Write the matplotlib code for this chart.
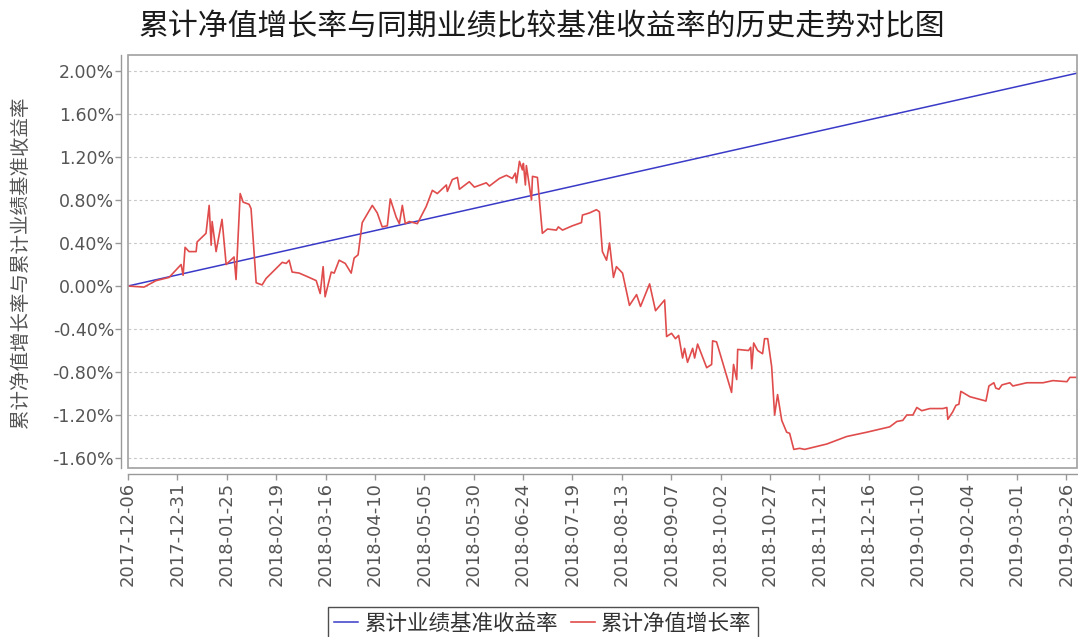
import matplotlib
matplotlib.use("Agg")
import matplotlib.pyplot as plt
from matplotlib.patches import Rectangle
from matplotlib.ticker import FuncFormatter
import pandas as pd

plt.rcParams['font.family'] = ['Noto Sans CJK SC', 'DejaVu Sans']

title = "累计净值增长率与同期业绩比较基准收益率的历史走势对比图"
y_label = "累计净值增长率与累计业绩基准收益率"
bench_name = "累计业绩基准收益率"
nav_name = "累计净值增长率"

start_date = "2017-12-06"
tick_step_days = 25
n_ticks = 20
x_end_day = 480.5

# benchmark (straight line): day offsets from start, percent
bench_day = [0, 480.5]
bench_pct = [0.00, 1.98]

# cumulative NAV growth: day offsets from start, percent
nav_day = [0, 8.1, 14.2, 20.8, 26.9, 27.9, 28.9, 30.9, 34.5, 35.0, 39.5, 41.1, 42.1, 42.6,
           44.6, 47.6, 49.7, 53.7, 54.7, 56.8, 58.3, 61.3, 62.3, 64.9, 67.9, 69.9, 78.1,
           80.1, 81.6, 83.1, 86.7, 91.7, 95.3, 97.3, 98.8, 99.8, 102.9, 104.4, 106.9,
           110.0, 113.0, 114.5, 116.5, 118.6, 123.7, 126.2, 128.7, 131.3, 132.8, 135.8,
           137.4, 138.9, 140.4, 142.4, 146.5, 151.0, 154.1, 156.6, 161.2, 161.7, 164.2,
           166.8, 167.8, 172.8, 175.4, 181.4, 183.0, 188.0, 191.6, 194.6, 196.1, 196.7,
           198.2, 199.7, 200.2, 201.2, 201.7, 204.3, 204.8, 207.3, 209.8, 212.4, 216.9,
           217.9, 220.0, 225.0, 229.6, 230.1, 233.7, 237.2, 238.7, 240.2, 242.3, 243.8,
           245.8, 247.3, 250.4, 253.9, 257.5, 259.5, 264.1, 267.1, 271.7, 272.7, 275.2,
           277.2, 278.8, 280.8, 281.8, 283.3, 285.9, 286.9, 288.4, 293.0, 295.5, 296.0,
           298.0, 305.6, 306.6, 308.2, 308.7, 314.2, 315.3, 315.8, 316.8, 318.8, 321.3,
           322.3, 323.9, 325.9, 327.4, 328.9, 331.0, 333.5, 335.0, 337.1, 340.1, 342.6,
           353.8, 363.9, 374.1, 385.7, 389.3, 392.3, 394.3, 397.4, 399.4, 401.9, 406.0,
           412.6, 414.6, 415.1, 417.6, 419.2, 420.7, 421.7, 426.3, 434.4, 435.9, 438.4,
           439.4, 441.0, 442.5, 446.5, 448.0, 455.1, 463.3, 468.3, 475.4, 476.9, 480.0]
nav_pct = [0.00, -0.01, 0.05, 0.08, 0.20, 0.10, 0.36, 0.32, 0.32, 0.41, 0.49, 0.75, 0.38, 0.60,
           0.32, 0.62, 0.20, 0.27, 0.06, 0.86, 0.78, 0.76, 0.72, 0.03, 0.01, 0.07, 0.22,
           0.21, 0.24, 0.13, 0.12, 0.08, 0.05, -0.07, 0.18, -0.10, 0.13, 0.12, 0.24,
           0.21, 0.12, 0.26, 0.29, 0.59, 0.75, 0.68, 0.55, 0.56, 0.81, 0.64,
           0.58, 0.75, 0.58, 0.60, 0.58, 0.74, 0.89, 0.86, 0.94, 0.88, 0.99,
           1.01, 0.90, 0.97, 0.92, 0.96, 0.93, 1.00, 1.03, 1.00, 1.05, 0.96,
           1.16, 1.08, 1.14, 0.94, 1.12, 0.80, 1.02, 1.01, 0.49, 0.53, 0.52,
           0.55, 0.52, 0.56, 0.59, 0.66, 0.68, 0.71, 0.69, 0.32, 0.24, 0.40,
           0.08, 0.18, 0.12, -0.18, -0.08, -0.19, 0.02, -0.23, -0.13, -0.47, -0.44,
           -0.49, -0.46, -0.67, -0.58, -0.71, -0.58, -0.67, -0.54, -0.76, -0.73, -0.51,
           -0.52, -0.99, -0.73, -0.87, -0.59, -0.60, -0.57, -0.77, -0.53, -0.60, -0.63,
           -0.49, -0.49, -0.75, -1.20, -1.01, -1.25, -1.36, -1.37, -1.52, -1.51, -1.52,
           -1.47, -1.40, -1.36, -1.31, -1.26, -1.25, -1.20, -1.20, -1.13, -1.16, -1.14,
           -1.14, -1.13, -1.24, -1.17, -1.11, -1.10, -0.98, -1.03, -1.07, -0.93, -0.90,
           -0.95, -0.96, -0.92, -0.90, -0.93, -0.90, -0.90, -0.88, -0.89, -0.85, -0.85]

y_ticks = [-1.60, -1.20, -0.80, -0.40, 0.00, 0.40, 0.80, 1.20, 1.60, 2.00]

t0 = pd.Timestamp(start_date)
to_dates = lambda days: [t0 + pd.Timedelta(days=d) for d in days]

fig = plt.figure(figsize=(10.78, 6.37), dpi=100)
ax = fig.add_axes([128 / 1078, 1 - 468 / 637, (1077 - 128) / 1078, (468 - 55) / 637])

ax.plot(to_dates(bench_day), bench_pct, color='#3a3ac8', lw=1.1, label=bench_name, zorder=3)
ax.plot(to_dates(nav_day), nav_pct, color='#e04c4c', lw=1.2, label=nav_name, zorder=3)

ax.set_xlim(t0, t0 + pd.Timedelta(days=x_end_day))
ax.set_ylim(-1.693, 2.149)

ax.set_yticks(y_ticks)
ax.yaxis.set_major_formatter(FuncFormatter(lambda v, p: f"{v:.2f}%"))
xt = to_dates([i * tick_step_days for i in range(n_ticks)])
ax.set_xticks(xt)
ax.set_xticklabels([d.strftime("%Y-%m-%d") for d in xt])

ax.grid(axis='y', color='#c8c8c8', linestyle=(0, (2.5, 2.5)), lw=0.8)
ax.set_axisbelow(True)

for s in ['top', 'right']:
    ax.spines[s].set_visible(False)
ax.spines['left'].set_position(('outward', 5))
ax.spines['bottom'].set_position(('outward', 4))
for s in ['left', 'bottom']:
    ax.spines[s].set_color('#999999')
    ax.spines[s].set_linewidth(1.0)
ax.add_patch(Rectangle((0, 0), 1, 1, transform=ax.transAxes, fill=False,
                       edgecolor='#a0a0a0', lw=1.2, clip_on=False, zorder=4))

ax.tick_params(axis='y', colors='#999999', labelcolor='#555555', length=4, width=1,
               pad=1, labelsize=12.5)
ax.tick_params(axis='x', colors='#999999', labelcolor='#555555', length=4, width=1,
               pad=2, labelsize=13, labelrotation=90)
for lab in ax.get_xticklabels() + ax.get_yticklabels():
    lab.set_family(['DejaVu Sans'])

fig.text(542 / 1078, 1 - 27 / 637, title, ha='center', va='center', fontsize=21.5,
         color='#1a1a1a', fontweight='medium')
fig.text(20 / 1078, 1 - 262 / 637, y_label, ha='center', va='center', rotation=90,
         fontsize=14, color='#555555')

leg = fig.legend(loc='center', bbox_to_anchor=(543 / 1078, 1 - 624 / 637), ncol=2,
                 fontsize=15.5, frameon=True, fancybox=False, handlelength=1.1,
                 handletextpad=0.3, columnspacing=0.6, borderpad=0.3, borderaxespad=0)
leg.get_frame().set_edgecolor('#222222')
leg.get_frame().set_linewidth(1.0)
for t in leg.get_texts():
    t.set_color('#333333')

fig.savefig("out.png", dpi=100)
